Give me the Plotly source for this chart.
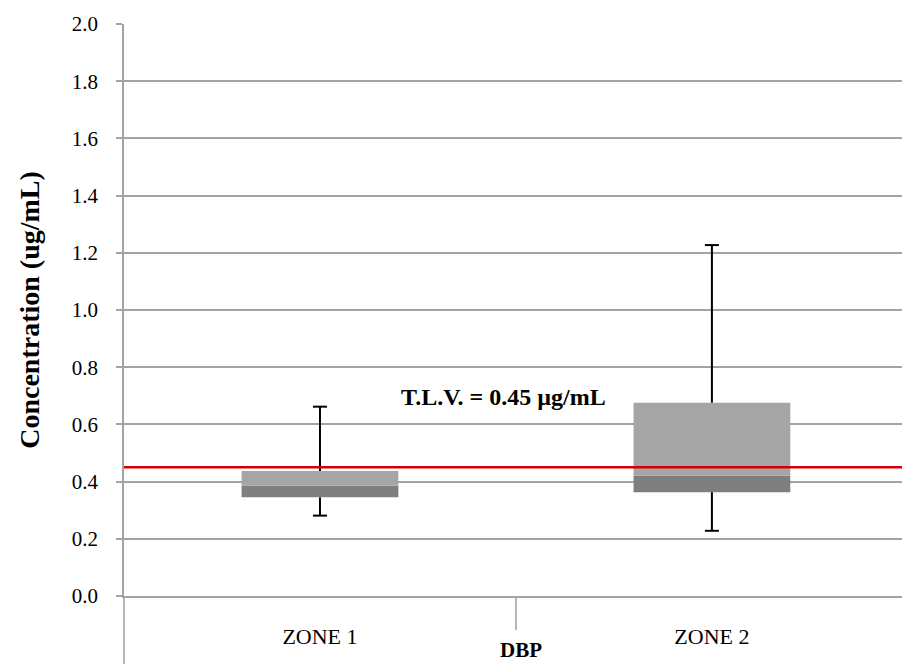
import plotly.graph_objects as go

zones = ["ZONE 1", "ZONE 2"]
q1 = [0.345, 0.363]
median = [0.386, 0.421]
q3 = [0.437, 0.676]
whisker_low = [0.281, 0.228]
whisker_high = [0.662, 1.227]
tlv = 0.45
tlv_label = "T.L.V. = 0.45 µg/mL"
x_title = "DBP"
y_title = "Concentration (ug/mL)"
y_ticks = [0.0, 0.2, 0.4, 0.6, 0.8, 1.0, 1.2, 1.4, 1.6, 1.8, 2.0]

GRID = "#a3a3a3"
SERIF = "Liberation Serif"

fig = go.Figure()

# lower box segment (Q1 -> median)
fig.add_trace(go.Bar(
    x=zones, y=[m - a for m, a in zip(median, q1)], base=q1,
    width=0.4, marker=dict(color="#7f7f7f", line=dict(width=0)),
    showlegend=False, hoverinfo="skip"))
# upper box segment (median -> Q3)
fig.add_trace(go.Bar(
    x=zones, y=[b - m for b, m in zip(q3, median)], base=median,
    width=0.4, marker=dict(color="#a5a5a5", line=dict(width=0)),
    showlegend=False, hoverinfo="skip"))

# whisker stems
wx, wy = [], []
for z, lo, a, b, hi in zip(zones, whisker_low, q1, q3, whisker_high):
    wx += [z, z, None, z, z, None]
    wy += [b, hi, None, lo, a, None]
fig.add_trace(go.Scatter(x=wx, y=wy, mode="lines",
                         line=dict(color="black", width=2),
                         showlegend=False, hoverinfo="skip"))
# whisker caps
fig.add_trace(go.Scatter(x=zones + zones, y=whisker_high + whisker_low, mode="markers",
                         marker=dict(symbol="line-ew", size=10,
                                     line=dict(color="black", width=2)),
                         showlegend=False, hoverinfo="skip"))

fig.add_shape(type="line", xref="paper", yref="y", x0=0, x1=1, y0=tlv, y1=tlv,
              line=dict(color="#d40000", width=2.5), layer="above")
# y axis line extension below zero
fig.add_shape(type="line", xref="paper", yref="paper", x0=0, x1=0, y0=0, y1=-0.2,
              line=dict(color=GRID, width=1.6))
# category boundary tick between the two zones
fig.add_shape(type="line", xref="x", yref="paper", x0=0.5, x1=0.5, y0=0, y1=-34 / 572,
              line=dict(color=GRID, width=1.6))

fig.add_annotation(x=0.469, y=0.696, xref="x", yref="y", text="<b>" + tlv_label + "</b>",
                   showarrow=False, font=dict(family=SERIF, size=24, color="black"))
# x-axis title below the category labels
fig.add_annotation(x=0.51, y=-68 / 572, xref="paper", yref="paper", yanchor="bottom",
                   text="<b>" + x_title + "</b>", showarrow=False,
                   font=dict(family=SERIF, size=21, color="black"))

fig.update_layout(
    width=902, height=664,
    margin=dict(l=124, r=0, t=24, b=68),
    paper_bgcolor="white", plot_bgcolor="white",
    barmode="overlay",
    xaxis=dict(type="category", categoryorder="array", categoryarray=zones,
               range=[-0.5, 1.485], showgrid=False, automargin=False,
               showline=True, linecolor=GRID, linewidth=1.6,
               ticks="",
               tickfont=dict(family=SERIF, size=22, color="black"),
               ticklabelstandoff=20),
    yaxis=dict(range=[0, 2.0], tickvals=y_ticks, ticktext=[f"{v:.1f}" for v in y_ticks],
               automargin=False,
               showgrid=True, gridcolor=GRID, gridwidth=1.6,
               showline=True, linecolor=GRID, linewidth=1.6,
               zeroline=False,
               ticks="outside", ticklen=6, tickcolor=GRID, tickwidth=1.6,
               tickfont=dict(family=SERIF, size=21, color="black"),
               ticklabelstandoff=14,
               title=dict(text="<b>" + y_title + "</b>",
                          font=dict(family=SERIF, size=28, color="black"),
                          standoff=24)),
)

fig.write_html("out.html")
